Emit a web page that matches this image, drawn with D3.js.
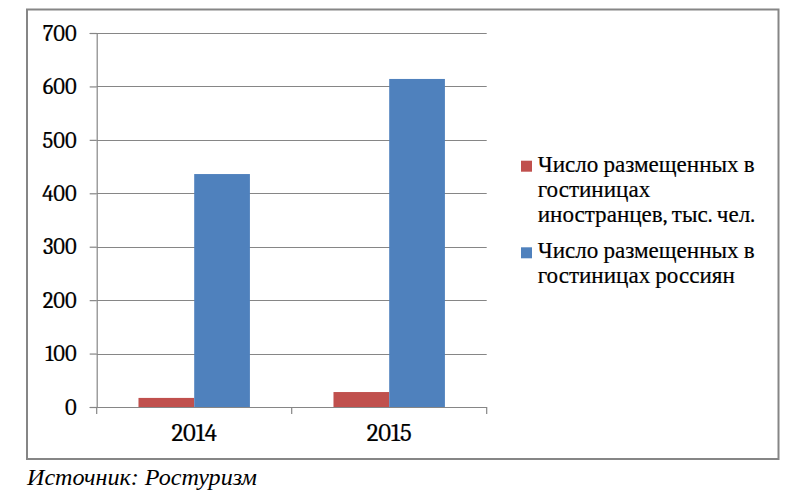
<!DOCTYPE html>
<html><head><meta charset="utf-8">
<script src="https://cdn.jsdelivr.net/npm/d3@7"></script>
<style>body{margin:0;background:#fff}svg{display:block}</style>
</head><body>
<svg id="c" width="798" height="498"></svg>
<script>
const categories = ["2014", "2015"];
const seriesNames = ["Число размещенных в гостиницах иностранцев, тыс. чел.", "Число размещенных в гостиницах россиян"];
const foreigners = [17, 28];
const russians = [436, 614];
const yTicks = [0, 100, 200, 300, 400, 500, 600, 700];
const legendLines = [["Число размещенных в", "гостиницах", "иностранцев, тыс. чел."], ["Число размещенных в", "гостиницах россиян"]];
const colors = ["#C0504D", "#4F81BD"];
const caption = "Источник: Ростуризм";

(function () {
const svg = d3.select("#c");
const serif = "'Cambria'";
const capFont = "'Times New Roman'";
const grid = "#868686";

// size a font so that a sample string spans a given width
function fit(sample, width, fam, style) {
  const t = svg.append("text").attr("font-family", fam).attr("font-size", 20)
    .attr("font-style", style || "normal").text(sample);
  const w = t.node().getComputedTextLength();
  t.remove();
  return 20 * width / w;
}
const fsY = fit("700", 34, serif);
const fsX = fit("2014", 45.5, serif);
const fsL = fit("Число размещенных в", 217, serif);
const fsC = fit(caption, 230, capFont, "italic");

// frame
svg.append("rect").attr("x", 27).attr("y", 9.5).attr("width", 751.5).attr("height", 449.5)
  .attr("fill", "none").attr("stroke", grid).attr("stroke-width", 2);

const pL = 96.7, pR = 486.7, pT = 33, pB = 407;
const x0 = d3.scaleBand().domain(categories).range([pL, pR]).padding(0);
const x1 = d3.scaleBand().domain([0, 1]).range([0, x0.bandwidth()]).paddingInner(0).paddingOuter(0.75);
const y = d3.scaleLinear().domain([0, 700]).range([pB, pT]);

// gridlines
svg.append("g").selectAll("line").data(yTicks).join("line")
  .attr("x1", pL).attr("x2", pR)
  .attr("y1", d => Math.round(y(d)) + 0.5).attr("y2", d => Math.round(y(d)) + 0.5)
  .attr("stroke", grid).attr("stroke-width", 1.2);

// y axis
const ya = svg.append("g").attr("transform", `translate(${pL},0)`)
  .call(d3.axisLeft(y).tickValues(yTicks).tickSize(7).tickPadding(13).tickFormat(d3.format("d")));
ya.select(".domain").attr("stroke", grid).attr("stroke-width", 1.2);
ya.selectAll(".tick line").attr("stroke", grid).attr("stroke-width", 1.2);
ya.selectAll(".tick text").attr("font-family", serif).attr("font-size", fsY).attr("fill", "#000")
  .attr("stroke", "#000").attr("stroke-width", 0.2);

// bars
const data = categories.map((c, i) => ({ c, vals: [foreigners[i], russians[i]] }));
const g = svg.append("g").selectAll("g").data(data).join("g")
  .attr("transform", d => `translate(${x0(d.c)},0)`);
g.selectAll("rect").data(d => d.vals.map((v, k) => ({ v, k }))).join("rect")
  .attr("x", d => x1(d.k)).attr("width", x1.bandwidth())
  .attr("y", d => y(d.v)).attr("height", d => y(0) - y(d.v))
  .attr("fill", d => colors[d.k]);

// x axis
const xa = svg.append("g").attr("transform", `translate(0,${pB})`);
xa.append("line").attr("x1", pL).attr("x2", pR).attr("y1", 0.5).attr("y2", 0.5)
  .attr("stroke", grid).attr("stroke-width", 1.2);
const bounds = [pL, ...categories.map(c => x0(c) + x0.bandwidth())];
xa.selectAll("line.t").data(bounds).join("line").attr("class", "t")
  .attr("x1", d => d).attr("x2", d => d).attr("y1", 0).attr("y2", 7)
  .attr("stroke", grid).attr("stroke-width", 1.2);
xa.selectAll("text").data(categories).join("text")
  .attr("x", d => x0(d) + x0.bandwidth() / 2).attr("y", 34)
  .attr("text-anchor", "middle").attr("font-family", serif).attr("font-size", fsX)
  .attr("stroke", "#000").attr("stroke-width", 0.2).text(d => d);

// legend
const lg = svg.append("g");
const lgY = [171.7, 258.3];
legendLines.forEach((lines, i) => {
  lg.append("rect").attr("x", 521).attr("y", lgY[i] - 11).attr("width", 11).attr("height", 11).attr("fill", colors[i]);
  lines.forEach((t, j) => {
    lg.append("text").attr("x", 537.7).attr("y", lgY[i] + j * 25)
      .attr("font-family", serif).attr("font-size", fsL).attr("fill", "#000")
      .attr("stroke", "#000").attr("stroke-width", 0.2).text(t);
  });
});

// caption
svg.append("text").attr("x", 27).attr("y", 485).attr("font-family", capFont)
  .attr("font-style", "italic").attr("font-size", fsC).attr("fill", "#000").text(caption);
})();
</script>
</body></html>
